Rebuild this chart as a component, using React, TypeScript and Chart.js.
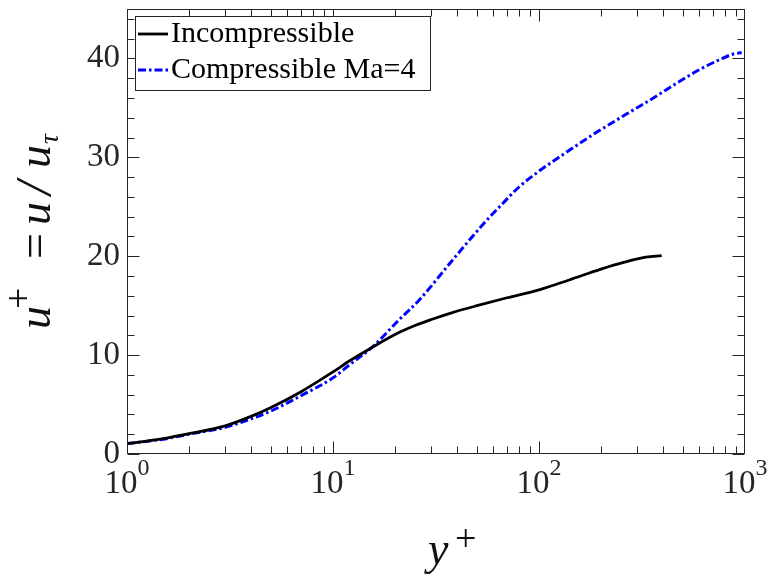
import React, { useEffect, useRef } from 'react';
import { Chart, registerables } from 'chart.js';

Chart.register(...registerables);

// ---- data ----
const incYPlus = [1, 1.5, 2, 3, 4, 5, 7, 10, 12, 15.4, 21, 25, 30, 38, 50, 70, 100, 140, 200, 260, 330, 394];
const incUPlus = [1.05, 1.55, 2.05, 2.85, 3.8, 4.7, 6.3, 8.3, 9.4, 10.75, 12.3, 13.0, 13.6, 14.3, 15.0, 15.8, 16.6, 17.6, 18.7, 19.4, 19.9, 20.05];

const compYPlus = [1, 1.5, 2, 3, 4, 5, 7, 10, 12, 15.4, 21, 26.3, 38, 55, 65, 80, 100, 126, 183, 267, 359, 466, 605, 757, 878, 964];
const compUPlus = [1.05, 1.5, 2.0, 2.7, 3.55, 4.35, 5.9, 7.7, 9.0, 10.75, 13.6, 15.6, 19.6, 23.5, 25.1, 27.0, 28.6, 30.05, 32.3, 34.4, 36.0, 37.5, 38.9, 39.9, 40.45, 40.6];

const seriesLabels = ['Incompressible', 'Compressible Ma=4'];
const xTickValues = [1, 10, 100, 1000];
const xTickBase = '10';
const xTickExponents = ['0', '1', '2', '3'];
const yTickValues = [0, 10, 20, 30, 40];
const yMinorStep = 2;

const SERIF = '"Liberation Serif", "Times New Roman", serif';
const AXIS = '#262626';

const decorPlugin = {
  id: 'decor',
  afterDatasetsDraw(chart: any) {
    const { ctx, chartArea: a, scales } = chart;
    const xs = scales.x;
    const ys = scales.y;
    const L = Math.round(a.left) + 0.5;
    const R = Math.round(a.right) - 0.5;
    const T = Math.round(a.top) + 0.5;
    const B = Math.round(a.bottom) - 0.5;
    ctx.save();
    ctx.strokeStyle = AXIS;
    ctx.lineWidth = 1;
    ctx.setLineDash([]);
    ctx.beginPath();
    ctx.rect(L, T, R - L, B - T);
    ctx.stroke();

    // x ticks (inward, mirrored)
    const major = 12;
    const minor = 7;
    ctx.beginPath();
    const minVal = xs.min;
    const maxVal = xs.max;
    for (let base = minVal; base < maxVal; base *= 10) {
      for (let m = 1; m < 10; m++) {
        const v = base * m;
        const px = Math.round(xs.getPixelForValue(v)) + 0.5;
        const len = m === 1 ? major : minor;
        ctx.moveTo(px, B);
        ctx.lineTo(px, B - len);
        ctx.moveTo(px, T);
        ctx.lineTo(px, T + len);
      }
    }
    {
      const px = Math.round(xs.getPixelForValue(maxVal)) - 0.5;
      ctx.moveTo(px, B);
      ctx.lineTo(px, B - major);
      ctx.moveTo(px, T);
      ctx.lineTo(px, T + major);
    }
    // y ticks
    for (let v = ys.min; v <= ys.max + 1e-9; v += yMinorStep) {
      const py = Math.round(ys.getPixelForValue(v)) + 0.5;
      const len = yTickValues.includes(v) ? major : minor;
      ctx.moveTo(L, py);
      ctx.lineTo(L + len, py);
      ctx.moveTo(R, py);
      ctx.lineTo(R - len, py);
    }
    ctx.stroke();

    // x tick labels 10^n
    ctx.fillStyle = AXIS;
    ctx.textBaseline = 'alphabetic';
    ctx.textAlign = 'left';
    const mainFont = `33px ${SERIF}`;
    const supFont = `24px ${SERIF}`;
    xTickValues.forEach((v, i) => {
      const px = xs.getPixelForValue(v);
      ctx.font = mainFont;
      const w1 = ctx.measureText(xTickBase).width;
      ctx.font = supFont;
      const w2 = ctx.measureText(xTickExponents[i]).width;
      const x0 = px - (w1 + w2) / 2;
      ctx.font = mainFont;
      ctx.fillText(xTickBase, x0, 493);
      ctx.font = supFont;
      ctx.fillText(xTickExponents[i], x0 + w1, 475);
    });

    // x axis title  y^+
    ctx.fillStyle = '#111';
    ctx.font = `italic 46px ${SERIF}`;
    ctx.fillText('y', 428, 564);
    ctx.font = `38px ${SERIF}`;
    ctx.fillText('+', 455, 551);

    // y axis title  u^+ = u/u_tau
    ctx.save();
    ctx.translate(50, 329);
    ctx.rotate(-Math.PI / 2);
    ctx.font = `italic 46px ${SERIF}`;
    ctx.fillText('u', 0, 0);
    ctx.font = `38px ${SERIF}`;
    ctx.fillText('+', 20, -19);
    ctx.font = `46px ${SERIF}`;
    ctx.fillText('=', 70, 0);
    ctx.font = `italic 46px ${SERIF}`;
    ctx.fillText('u', 104, 0);
    ctx.font = `italic 50px ${SERIF}`;
    ctx.fillText('/', 134, 0);
    ctx.font = `italic 46px ${SERIF}`;
    ctx.fillText('u', 161, 0);
    ctx.font = `italic 28px ${SERIF}`;
    ctx.fillText('τ', 185, 8);
    ctx.restore();

    // legend
    const lx = 135.5, ly = 16.5, lw = 295, lh = 74;
    ctx.fillStyle = '#ffffff';
    ctx.fillRect(lx, ly, lw, lh);
    ctx.strokeStyle = AXIS;
    ctx.lineWidth = 1;
    ctx.strokeRect(lx, ly, lw, lh);
    const rows = [34, 70];
    const baselines = [42, 78];
    chart.data.datasets.forEach((ds: any, i: number) => {
      ctx.save();
      ctx.strokeStyle = ds.borderColor;
      ctx.lineWidth = ds.borderWidth;
      ctx.setLineDash(ds.borderDash || []);
      ctx.beginPath();
      ctx.moveTo(138, rows[i]);
      ctx.lineTo(168, rows[i]);
      ctx.stroke();
      ctx.restore();
      ctx.fillStyle = '#000';
      ctx.font = `30px ${SERIF}`;
      ctx.fillText(ds.label, 171, baselines[i]);
    });
    ctx.restore();
  },
};

export default function App() {
  const ref = useRef<HTMLCanvasElement | null>(null);
  useEffect(() => {
    if (!ref.current) return;
    const chart = new Chart(ref.current, {
      type: 'line',
      data: {
        datasets: [
          {
            label: seriesLabels[0],
            data: incYPlus.map((x, i) => ({ x, y: incUPlus[i] })),
            borderColor: '#000000',
            borderWidth: 2.8,
            pointRadius: 0,
            fill: false,
            cubicInterpolationMode: 'monotone',
          },
          {
            label: seriesLabels[1],
            data: compYPlus.map((x, i) => ({ x, y: compUPlus[i] })),
            borderColor: '#0000ff',
            borderWidth: 3,
            borderDash: [8, 3, 2.5, 3],
            pointRadius: 0,
            fill: false,
            cubicInterpolationMode: 'monotone',
          },
        ],
      },
      options: {
        animation: false,
        responsive: false,
        devicePixelRatio: 1,
        layout: { autoPadding: false, padding: { top: 9, right: 26, left: 0, bottom: 0 } },
        plugins: { legend: { display: false }, tooltip: { enabled: false } },
        scales: {
          x: {
            type: 'logarithmic',
            min: 1,
            max: 1000,
            grid: { display: false, drawTicks: false },
            border: { display: false },
            ticks: { display: false },
            afterFit: (s: any) => {
              s.height = 123;
              s.paddingLeft = 0;
              s.paddingRight = 0;
            },
          },
          y: {
            type: 'linear',
            min: 0,
            max: 45,
            grid: { display: false, drawTicks: false },
            border: { display: false },
            ticks: {
              color: AXIS,
              font: { family: SERIF, size: 33 },
              padding: 7,
            },
            afterBuildTicks: (s: any) => {
              s.ticks = yTickValues.map((v) => ({ value: v }));
            },
            afterFit: (s: any) => {
              s.width = 127;
              s.paddingTop = 0;
              s.paddingBottom = 0;
            },
          },
        },
      },
      plugins: [decorPlugin],
    } as any);
    return () => chart.destroy();
  }, []);
  return (
    <div style={{ position: 'absolute', left: 0, top: 0, width: 771, height: 577, background: '#fff' }}>
      <canvas ref={ref} width={771} height={577} style={{ display: 'block' }} />
    </div>
  );
}
